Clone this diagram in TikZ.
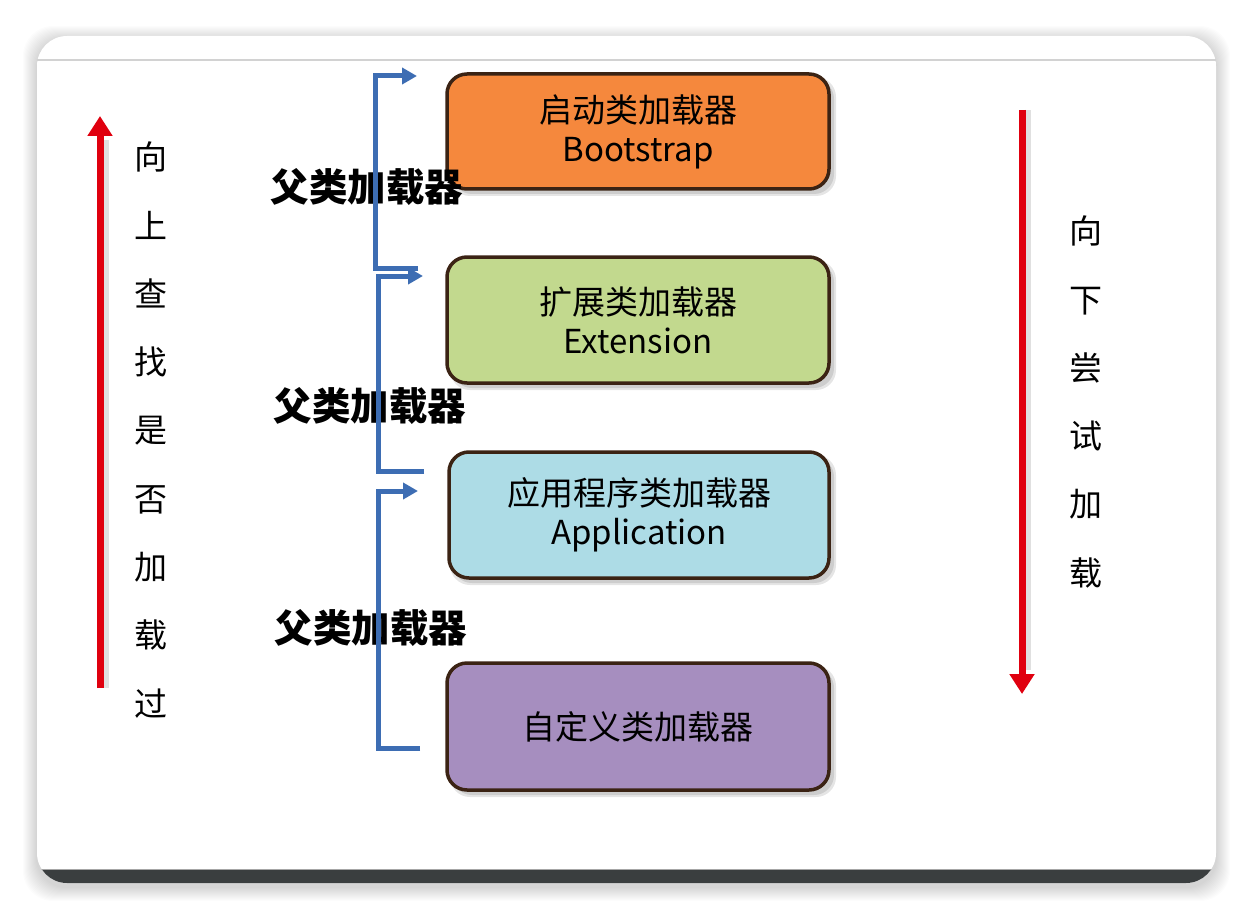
\documentclass[tikz,border=0pt]{standalone}
\usepackage{fontspec}
\setmainfont{Noto Sans CJK SC}
\newfontfamily\cjk{Noto Sans CJK SC}
\usetikzlibrary{arrows.meta}
\definecolor{boxborder}{HTML}{3B2314}
\definecolor{orangefill}{HTML}{F5883D}
\definecolor{greenfill}{HTML}{C2D98E}
\definecolor{bluefill}{HTML}{ADDCE6}
\definecolor{purplefill}{HTML}{A68EBF}
\definecolor{bracketblue}{HTML}{3D6DB3}
\definecolor{arrowred}{HTML}{E0000F}
\definecolor{barcol}{HTML}{3A3E3F}
\tikzset{
  loaderbox/.style={draw=boxborder, line width=3.5pt, rounded corners=20pt,
    minimum width=#1, align=center, inner sep=0pt,
    font=\cjk\fontsize{33}{39}\selectfont, text=black},
  parentlabel/.style={font=\cjk\bfseries\fontsize{38.5}{40}\selectfont, inner sep=0pt},
  vertlabel/.style={font=\cjk\fontsize{33}{68.3}\selectfont, align=center, inner sep=0pt},
  bracket/.style={draw=bracketblue, line width=5pt, line join=miter,
    -{Triangle[length=15pt,width=16pt]}},
  redarrow/.style={draw=arrowred, line width=7pt,
    -{Triangle[length=20pt,width=24pt]}},
  redshadow/.style={draw=black, opacity=0.12, line width=9pt},
}
\begin{document}
\begin{tikzpicture}[x=1pt,y=-1pt]
\useasboundingbox (0,0) rectangle (1252,920);
\fill[white] (0,0) rectangle (1252,920);
% card shadow
\foreach \i in {1,...,14}{
  \fill[black, opacity=0.013, rounded corners=30pt]
    (37-\i,36-\i+4) rectangle (1216+\i,883+\i+4);
}
% card
\fill[white, rounded corners=30pt] (37,36) rectangle (1216,883);
\begin{scope}
  \clip[rounded corners=30pt] (37,36) rectangle (1216,883);
  \fill[barcol] (30,869) rectangle (1225,890);
  \draw[gray!70, line width=1pt] (30,869.5) -- (1225,869.5);
\end{scope}
\draw[gray!35, line width=2pt] (37,60) -- (1216,60);

% box shadows
\foreach \cy/\h in {131.5/115, 320/126, 515/126, 726.5/127}{
  \fill[black, opacity=0.10, rounded corners=20pt] (447+3,\cy-\h/2+3) rectangle (829+7,\cy+\h/2+7);
  \fill[black, opacity=0.10, rounded corners=20pt] (447+5,\cy-\h/2+5) rectangle (829+5,\cy+\h/2+5);
}

% boxes
\node[loaderbox=382pt, fill=orangefill, minimum height=115pt] (boot) at (638,131.5) {启动类加载器\\Bootstrap};
\node[loaderbox=382pt, fill=greenfill, minimum height=126pt] (ext) at (638,320) {扩展类加载器\\Extension};
\node[loaderbox=380pt, fill=bluefill, minimum height=126pt] (app) at (639,515) {应用程序类加载器\\Application};
\node[loaderbox=382pt, fill=purplefill, minimum height=127pt] (custom) at (638,726.5) {自定义类加载器};

% parent labels
\node[parentlabel] (pl1) at (367,187) {父类加载器};
\node[parentlabel] (pl2) at (370,406) {父类加载器};
\node[parentlabel] (pl3) at (371,628) {父类加载器};

% brackets
\coordinate (b1s) at (418,268);
\coordinate (b1a) at (375,268);
\coordinate (b1b) at (375,76);
\coordinate (b1e) at (417,76);
\draw[bracket] (b1s) -- (b1a) -- (b1b) -- (b1e);
\coordinate (b2s) at (424,471);
\coordinate (b2a) at (378,471);
\coordinate (b2b) at (378,276);
\coordinate (b2e) at (423,276);
\draw[bracket] (b2s) -- (b2a) -- (b2b) -- (b2e);
\coordinate (b3s) at (420,748);
\coordinate (b3a) at (378,748);
\coordinate (b3b) at (378,491);
\coordinate (b3e) at (418,491);
\draw[bracket] (b3s) -- (b3a) -- (b3b) -- (b3e);

% red arrows
\coordinate (upS) at (100,688);
\coordinate (upE) at (100,116);
\coordinate (dnS) at (1022,110);
\coordinate (dnE) at (1022,694);
\draw[redshadow] (104,688) -- (104,140);
\draw[redshadow] (1026,110) -- (1026,670);
\draw[redarrow] (upS) -- (upE);
\draw[redarrow] (dnS) -- (dnE);

% vertical texts
\node[vertlabel] (upText) at (151,430) {向\\上\\查\\找\\是\\否\\加\\载\\过};
\node[vertlabel] (dnText) at (1086,402) {向\\下\\尝\\试\\加\\载};
\end{tikzpicture}
\end{document}
